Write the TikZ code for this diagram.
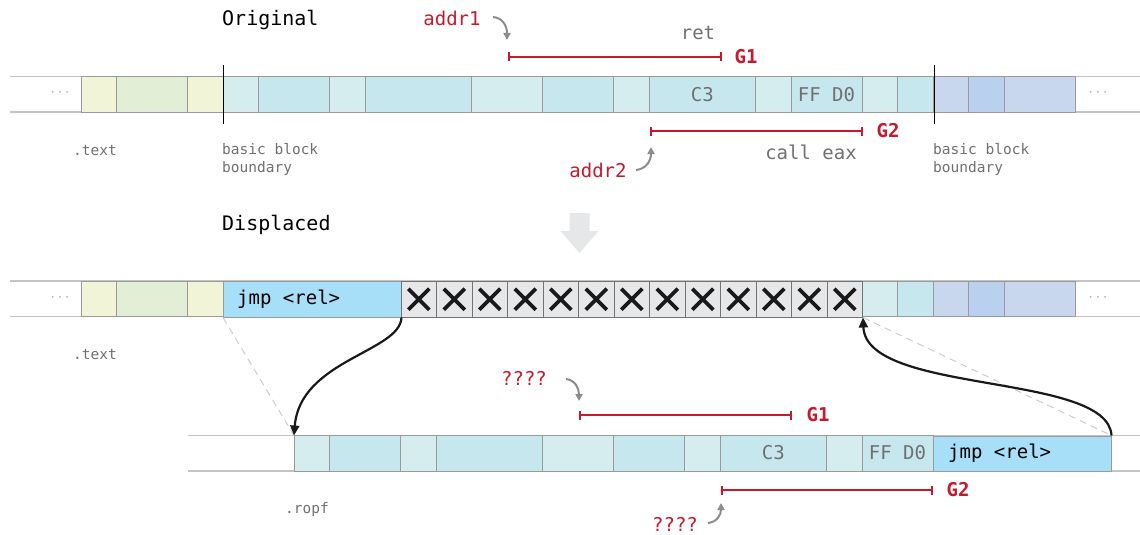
\documentclass[tikz,border=0pt]{standalone}
\usepackage{fontspec}
\setmonofont{DejaVu Sans Mono}
\usetikzlibrary{arrows.meta,calc}
\definecolor{cY}{HTML}{F1F4D6}
\definecolor{cG}{HTML}{E3EED7}
\definecolor{cL}{HTML}{D6EDF0}
\definecolor{cC}{HTML}{C7E7EF}
\definecolor{cB}{HTML}{C8D6EE}
\definecolor{cBd}{HTML}{B9D1EE}
\definecolor{cJ}{HTML}{A8DFF8}
\definecolor{cX}{HTML}{E6E7E8}
\definecolor{gline}{HTML}{9A9A9A}
\definecolor{grail}{HTML}{C4C4C4}
\definecolor{gtxt}{HTML}{707070}
\definecolor{gred}{HTML}{C8182B}
\definecolor{garrow}{HTML}{8C8C8C}
\tikzset{
  rail/.style={draw=grail,line width=1.2pt},
  cellbox/.style={draw=gline,line width=1pt},
  title/.style={font=\ttfamily\fontsize{20}{24}\selectfont,text=black,inner sep=0,anchor=west},
  lbl/.style={font=\ttfamily\fontsize{19}{22}\selectfont,text=gtxt,inner sep=0},
  small/.style={font=\ttfamily\fontsize{14.5}{18}\selectfont,text=gtxt,inner sep=0},
  dots/.style={font=\ttfamily\fontsize{12}{14}\selectfont,text=gray!60,inner sep=0},
  redlbl/.style={font=\ttfamily\fontsize{19}{22}\selectfont,text=gred,inner sep=0},
  gname/.style={font=\ttfamily\bfseries\fontsize{19}{22}\selectfont,text=gred,inner sep=0},
  gspan/.style={draw=gred,line width=1.8pt,{Bar[width=9pt,line width=1.8pt]}-{Bar[width=9pt,line width=1.8pt]}},
  ptr/.style={draw=garrow,line width=2pt,-{Triangle[length=7pt,width=7pt]}},
  jump/.style={draw=black!90,line width=2.2pt,-{Triangle[length=10pt,width=9pt]}},
  guide/.style={draw=black!20,line width=1pt,dash pattern=on 7pt off 5pt},
  jmpcell/.style={draw=gline,fill=cJ,line width=1pt,minimum width=177.5pt,minimum height=35.5pt,inner sep=0,anchor=north west},
  xcell/.style={draw=black!55,fill=cX,line width=1pt,minimum width=35.5pt,minimum height=35.5pt,inner sep=0,anchor=north west},
  bound/.style={draw=black,line width=1pt}
}
\begin{document}
\begin{tikzpicture}[x=1pt,y=-1pt]
\useasboundingbox (0,0) rectangle (1140,535);

% ---------- rails of the three byte strips ----------
\foreach \ya in {76.5,112,281,316.5} \draw[rail] (10,\ya) -- (1140,\ya);
\foreach \ya in {435.5,471} \draw[rail] (188,\ya) -- (1140,\ya);

% ---------- original layout ----------
\foreach \k/\w/\c in {0/1/cY,1/2/cG,3/1/cY,4/1/cL,5/2/cC,7/1/cL,8/3/cC,11/2/cL,13/2/cC,15/1/cL,16/3/cC,19/1/cL,20/2/cC,22/1/cL,23/1/cC,24/1/cB,25/1/cBd,26/2/cB}
  \filldraw[cellbox,fill=\c] ({81+35.5*\k},76.5) rectangle ++({35.5*\w},35.5);
\node[lbl] (c3a) at ({81+35.5*17.5},94.5) {C3};
\node[lbl] (ffa) at ({81+35.5*21},94.5) {FF D0};
\node[dots] (dotsa) at (60,94) {···};
\node[dots] (dotsb) at (1098,94) {···};
\draw[bound] (223,65) -- (223,124);
\draw[bound] (934,65) -- (934,124);

\node[title] (orig) at (222,20) {Original};
\node[redlbl] (addra) at (452,18) {addr1};
\node[lbl] (reta) at (698,33) {ret};
\draw[gspan] (508,57) -- (722,57);
\node[gname] (g1a) at (746,57) {G1};
\draw[ptr] (493,17) .. controls (503,18) and (507,26) .. (507,40);

\draw[gspan] (650,131) -- (863,131);
\node[gname] (g2a) at (888,131) {G2};
\node[lbl] (calla) at (811,152) {call eax};
\node[redlbl] (addrb) at (598,170) {addr2};
\draw[ptr] (636,170) .. controls (646,169) and (651,161) .. (651,147);

\node[small] (texta) at (95,151) {.text};
\node[small,anchor=north west,align=left] (bbl) at (222,143) {basic block\\boundary};
\node[small,anchor=north west,align=left] (bbr) at (933,143) {basic block\\boundary};

% ---------- displacement arrow ----------
\fill[cX] (569.5,213) -- (589.5,213) -- (589.5,231) -- (598.5,231) -- (579.5,253) -- (560.5,231) -- (569.5,231) -- cycle;

% ---------- displaced layout ----------
\node[title] (disp) at (222,225) {Displaced};
\foreach \k/\w/\c in {0/1/cY,1/2/cG,3/1/cY,22/1/cL,23/1/cC,24/1/cB,25/1/cBd,26/2/cB}
  \filldraw[cellbox,fill=\c] ({81+35.5*\k},281) rectangle ++({35.5*\w},35.5);
\node[jmpcell] (jmpa) at (223,281) {};
\node[lbl,text=black,anchor=west] (jmpta) at (237,299) {jmp <rel>};
\foreach \i in {1,...,13}{
  \node[xcell] (x\i) at ({400.5+35.5*(\i-1)},281) {};
  \draw[line width=3.6pt,black!90] ($(x\i.center)+(-10.5,-10.5)$) -- ($(x\i.center)+(10.5,10.5)$)
    ($(x\i.center)+(-10.5,10.5)$) -- ($(x\i.center)+(10.5,-10.5)$);
}
\node[dots] (dotsc) at (60,299) {···};
\node[dots] (dotsd) at (1098,299) {···};
\node[small] (textb) at (95,355) {.text};

% ---------- relocated gadget region ----------
\foreach \k/\w/\c in {6/1/cL,7/2/cC,9/1/cL,10/3/cC,13/2/cL,15/2/cC,17/1/cL,18/3/cC,21/1/cL,22/2/cC}
  \filldraw[cellbox,fill=\c] ({81+35.5*\k},435.5) rectangle ++({35.5*\w},35.5);
\node[jmpcell] (jmpb) at (933,435.5) {};
\node[lbl,text=black,anchor=west] (jmptb) at (948,453) {jmp <rel>};
\node[lbl] (c3b) at ({81+35.5*19.5},453) {C3};
\node[lbl] (ffb) at ({81+35.5*23},453) {FF D0};
\coordinate (ropf) at (294,435.5);
\node[small] (ropft) at (307,509) {.ropf};

\node[redlbl] (qa) at (524,378) {????};
\draw[ptr] (566,379) .. controls (575,380) and (579,388) .. (579,401);
\draw[gspan] (579,415) -- (792,415);
\node[gname] (g1b) at (818,415) {G1};

\draw[gspan] (721,490) -- (933,490);
\node[gname] (g2b) at (958,490) {G2};
\node[redlbl] (qb) at (675,524) {????};
\draw[ptr] (708,523) .. controls (717,522) and (721,515) .. (721,503);

% ---------- guides and jumps ----------
\draw[guide] (jmpa.south west) -- (ropf);
\draw[guide] (x13.south east) -- (jmpb.north east);
\draw[jump] (jmpa.south east) .. controls (400,352) and (300,360) .. (ropf);
\draw[jump] (jmpb.north east) .. controls (1108,372) and (866,395) .. (x13.south east);
\end{tikzpicture}
\end{document}
